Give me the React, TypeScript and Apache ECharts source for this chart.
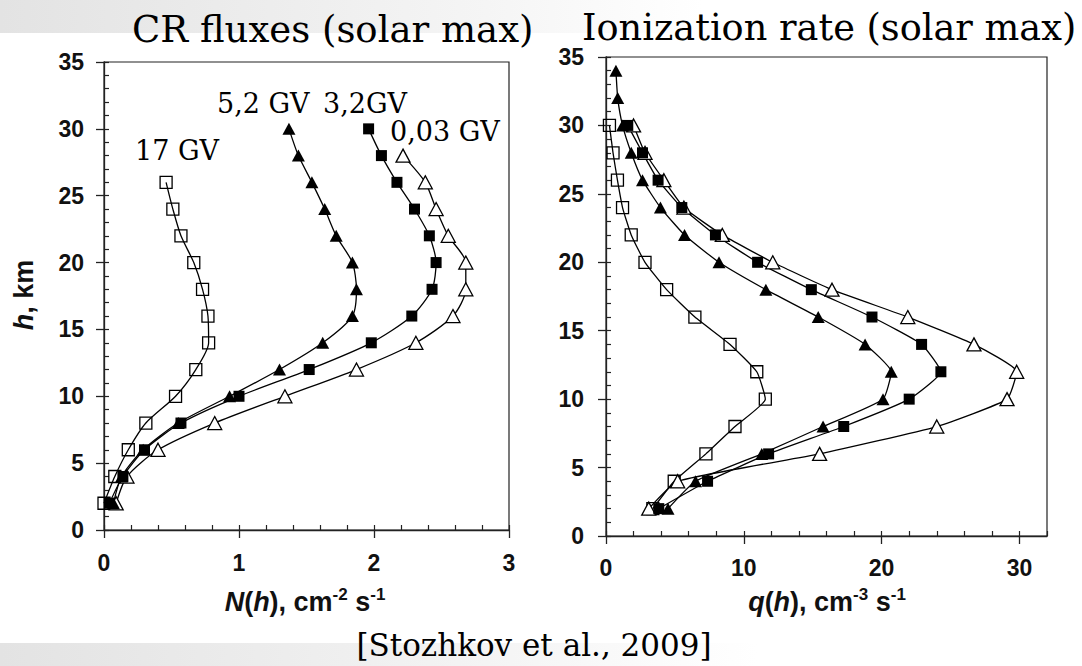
import React, { useEffect, useRef } from "react";
import * as echarts from "echarts";

// ---------- DATA ----------
// Left panel: CR fluxes N(h), cm^-2 s^-1 versus altitude h, km
const fluxHeights17 = [2, 4, 6, 8, 10, 12, 14, 16, 18, 20, 22, 24, 26];
const flux17GV = [0.0, 0.08, 0.18, 0.31, 0.53, 0.68, 0.775, 0.77, 0.73, 0.665, 0.57, 0.51, 0.46];
const fluxHeights = [2, 4, 6, 8, 10, 12, 14, 16, 18, 20, 22, 24, 26, 28, 30];
const flux52GV = [0.07, 0.13, 0.29, 0.55, 0.93, 1.3, 1.62, 1.84, 1.87, 1.84, 1.72, 1.635, 1.54, 1.44, 1.37];
const flux32GV = [0.04, 0.14, 0.3, 0.57, 1.0, 1.52, 1.98, 2.28, 2.43, 2.46, 2.41, 2.3, 2.17, 2.055, 1.96];
const fluxHeights003 = [2, 4, 6, 8, 10, 12, 14, 16, 18, 20, 22, 24, 26, 28];
const flux003GV = [0.09, 0.17, 0.4, 0.82, 1.34, 1.87, 2.31, 2.585, 2.68, 2.68, 2.55, 2.46, 2.38, 2.215];

// Right panel: ionization rate q(h), cm^-3 s^-1 versus altitude h, km
const ionHeights = [2, 4, 6, 8, 10, 12, 14, 16, 18, 20, 22, 24, 26, 28, 30];
const ion17GV = [3.4, 4.95, 7.25, 9.36, 11.56, 10.94, 9.0, 6.45, 4.4, 2.83, 1.83, 1.2, 0.83, 0.51, 0.25];
const ionHeights52 = [2, 4, 6, 8, 10, 12, 14, 16, 18, 20, 22, 24, 26, 28, 30, 32, 34];
const ion52GV = [4.5, 6.5, 11.3, 15.75, 20.1, 20.7, 18.8, 15.4, 11.6, 8.2, 5.7, 3.95, 2.65, 1.83, 1.2, 0.85, 0.72];
const ion32GV = [3.83, 7.37, 11.8, 17.25, 22.0, 24.3, 22.9, 19.3, 14.9, 11.0, 7.94, 5.5, 3.78, 2.65, 1.58];
const ion003GV = [3.1, 5.2, 15.5, 24.0, 29.1, 29.8, 26.7, 21.9, 16.4, 12.1, 8.44, 5.65, 4.2, 2.83, 2.0];

// Tick labels
const fluxTicks = [0, 1, 2, 3];
const ionTicks = [0, 10, 20, 30];
const heightTicks = [0, 5, 10, 15, 20, 25, 30, 35];

// Curve labels
const curveLabels = ["17 GV", "5,2 GV", "3,2GV", "0,03 GV"];

// ---------- STYLE ----------
const SANS = "'Liberation Sans', Arial, sans-serif";
const SERIF = "'DejaVu Serif', serif";
const INK = "#111";
const TICK_FONT = 23;

const pairs = (xs: number[], hs: number[]) => hs.map((h, i) => [xs[i], h]);

const markerStyles: Record<string, any> = {
  openSquare: { symbol: "rect", symbolSize: 12, itemStyle: { color: "rgba(255,255,255,0)", borderColor: "#000", borderWidth: 1.3 } },
  filledSquare: { symbol: "rect", symbolSize: 11, itemStyle: { color: "#000", borderColor: "#000", borderWidth: 0 } },
  filledTri: { symbol: "triangle", symbolSize: [13, 12], itemStyle: { color: "#000", borderColor: "#000", borderWidth: 0 } },
  openTri: { symbol: "triangle", symbolSize: [14, 13], itemStyle: { color: "#fff", borderColor: "#000", borderWidth: 1.3 } },
};

function makeSeries(name: string, data: number[][], marker: string, axis: number, smooth: number) {
  return {
    name,
    type: "line",
    xAxisIndex: axis,
    yAxisIndex: axis,
    data,
    smooth,
    clip: false,
    silent: true,
    ...markerStyles[marker],
    lineStyle: { color: "#000", width: 1.3 },
    emphasis: { disabled: true },
    z: 3,
  };
}

function mainXAxis(grid: number, max: number, ticks: number[], margin: number) {
  return {
    type: "value",
    gridIndex: grid,
    position: "bottom",
    min: 0,
    max,
    interval: ticks[1] - ticks[0],
    axisLine: { show: true, onZero: false, lineStyle: { color: "#222", width: 1.3 } },
    axisTick: { show: true, inside: false, length: 8, customValues: ticks, lineStyle: { color: "#222", width: 1.3 } },
    axisLabel: { show: true, customValues: ticks, margin, fontFamily: SANS, fontWeight: "bold", fontSize: TICK_FONT, color: INK },
    splitLine: { show: false },
  };
}

function minorXAxis(grid: number, max: number, step: number) {
  return {
    type: "value",
    gridIndex: grid,
    position: "bottom",
    min: 0,
    max,
    interval: step,
    axisLine: { show: false, onZero: false },
    axisTick: { show: true, inside: true, length: 5, lineStyle: { color: "#222", width: 1.2 } },
    axisLabel: { show: false },
    splitLine: { show: false },
  };
}

function mainYAxis(grid: number, margin: number) {
  return {
    type: "value",
    gridIndex: grid,
    position: "left",
    min: 0,
    max: 35,
    interval: 5,
    axisLine: { show: true, onZero: false, lineStyle: { color: "#222", width: 1.3 } },
    axisTick: { show: true, inside: false, length: 8, customValues: heightTicks, lineStyle: { color: "#222", width: 1.3 } },
    axisLabel: { show: true, customValues: heightTicks, margin, fontFamily: SANS, fontWeight: "bold", fontSize: TICK_FONT, color: INK },
    splitLine: { show: false },
  };
}

function minorYAxis(grid: number) {
  return {
    type: "value",
    gridIndex: grid,
    position: "left",
    min: 0,
    max: 35,
    interval: 1,
    axisLine: { show: false, onZero: false },
    axisTick: { show: true, inside: true, length: 5, lineStyle: { color: "#222", width: 1.2 } },
    axisLabel: { show: false },
    splitLine: { show: false },
  };
}

const richAxis = (size: number, supSize: number) => ({
  it: { fontFamily: SANS, fontWeight: "bold", fontStyle: "italic", fontSize: size, fill: INK, lineHeight: 32 },
  n: { fontFamily: SANS, fontWeight: "bold", fontSize: size, fill: INK, lineHeight: 32 },
  sup: { fontFamily: SANS, fontWeight: "bold", fontSize: supSize, fill: INK, lineHeight: supSize, verticalAlign: "top" },
});

function serifText(text: string, x: number, y: number, size: number, align = "left") {
  return {
    type: "text",
    x,
    y,
    silent: true,
    z: 10,
    style: { text, fontFamily: SERIF, fontSize: size, fill: "#000", align, verticalAlign: "middle" },
  };
}

export default function App() {
  const ref = useRef<HTMLDivElement>(null);

  useEffect(() => {
    if (!ref.current) return;
    const chart = echarts.init(ref.current, null, { renderer: "svg" });

    const option: any = {
      animation: false,
      backgroundColor: "#ffffff",
      grid: [
        { left: 104, top: 62, width: 405, height: 468, show: true, borderColor: "#222", borderWidth: 1.2, backgroundColor: "transparent", containLabel: false, outerBoundsMode: "none" },
        { left: 606, top: 57, width: 441, height: 479, show: true, borderColor: "#222", borderWidth: 1.2, backgroundColor: "transparent", containLabel: false, outerBoundsMode: "none" },
      ],
      xAxis: [
        mainXAxis(0, 3, fluxTicks, 21),
        minorXAxis(0, 3, 0.2),
        mainXAxis(1, 32, ionTicks, 20),
        minorXAxis(1, 32, 2),
      ],
      yAxis: [
        mainYAxis(0, 20),
        minorYAxis(0),
        mainYAxis(1, 22),
        minorYAxis(1),
      ],
      series: [
        makeSeries("17 GV", pairs(flux17GV, fluxHeights17), "openSquare", 0, 0.25),
        makeSeries("0,03 GV", pairs(flux003GV, fluxHeights003), "openTri", 0, 0.25),
        makeSeries("3,2GV", pairs(flux32GV, fluxHeights), "filledSquare", 0, 0.25),
        makeSeries("5,2 GV", pairs(flux52GV, fluxHeights), "filledTri", 0, 0.25),
        makeSeries("17 GV q", pairs(ion17GV, ionHeights), "openSquare", 2, 0.15),
        makeSeries("0,03 GV q", pairs(ion003GV, ionHeights), "openTri", 2, 0.15),
        makeSeries("3,2GV q", pairs(ion32GV, ionHeights), "filledSquare", 2, 0.15),
        makeSeries("5,2 GV q", pairs(ion52GV, ionHeights52), "filledTri", 2, 0.15),
      ],
      graphic: [
        {
          type: "rect",
          z: -10,
          silent: true,
          shape: { x: 0, y: 0, width: 1082, height: 33 },
          style: {
            fill: { type: "linear", x: 0, y: 0, x2: 1, y2: 0, colorStops: [
              { offset: 0, color: "#e3e3e3" },
              { offset: 0.45, color: "#f5f5f5" },
              { offset: 0.65, color: "#ffffff" },
              { offset: 1, color: "#ffffff" },
            ] },
          },
        },
        {
          type: "rect",
          z: -10,
          silent: true,
          shape: { x: 0, y: 643, width: 1082, height: 23 },
          style: {
            fill: { type: "linear", x: 0, y: 0, x2: 1, y2: 0, colorStops: [
              { offset: 0, color: "#e3e3e3" },
              { offset: 0.45, color: "#f4f4f4" },
              { offset: 0.7, color: "#ffffff" },
              { offset: 1, color: "#ffffff" },
            ] },
          },
        },
        serifText("CR fluxes (solar max)", 132, 29, 37),
        serifText("Ionization rate (solar max)", 582, 27.5, 36.7),
        serifText(curveLabels[0], 135, 150.5, 27),
        serifText(curveLabels[1], 217, 103.5, 27),
        serifText(curveLabels[2], 323, 103.5, 27),
        serifText(curveLabels[3], 390, 131.5, 27),
        serifText("[Stozhkov et al., 2009]", 534, 645, 31, "center"),
        {
          type: "text",
          x: 305,
          y: 602,
          silent: true,
          z: 10,
          style: {
            text: "{it|N}{n|(}{it|h}{n|), cm}{sup|-2}{n| s}{sup|-1}",
            align: "center",
            verticalAlign: "middle",
            rich: richAxis(27, 17),
          },
        },
        {
          type: "text",
          x: 827,
          y: 602,
          silent: true,
          z: 10,
          style: {
            text: "{it|q}{n|(}{it|h}{n|), cm}{sup|-3}{n| s}{sup|-1}",
            align: "center",
            verticalAlign: "middle",
            rich: richAxis(27, 17),
          },
        },
        {
          type: "text",
          x: 24,
          y: 295,
          rotation: Math.PI / 2,
          silent: true,
          z: 10,
          style: {
            text: "{it|h}{n|, km}",
            align: "center",
            verticalAlign: "middle",
            rich: {
              it: { fontFamily: SANS, fontWeight: "bold", fontStyle: "italic", fontSize: 27, fill: INK },
              n: { fontFamily: SANS, fontWeight: "bold", fontSize: 27, fill: INK },
            },
          },
        },
      ],
    };

    chart.setOption(option);
    return () => chart.dispose();
  }, []);

  return (
    <div
      ref={ref}
      style={{ position: "fixed", left: 0, top: 0, width: 1082, height: 666, background: "#fff" }}
    />
  );
}
